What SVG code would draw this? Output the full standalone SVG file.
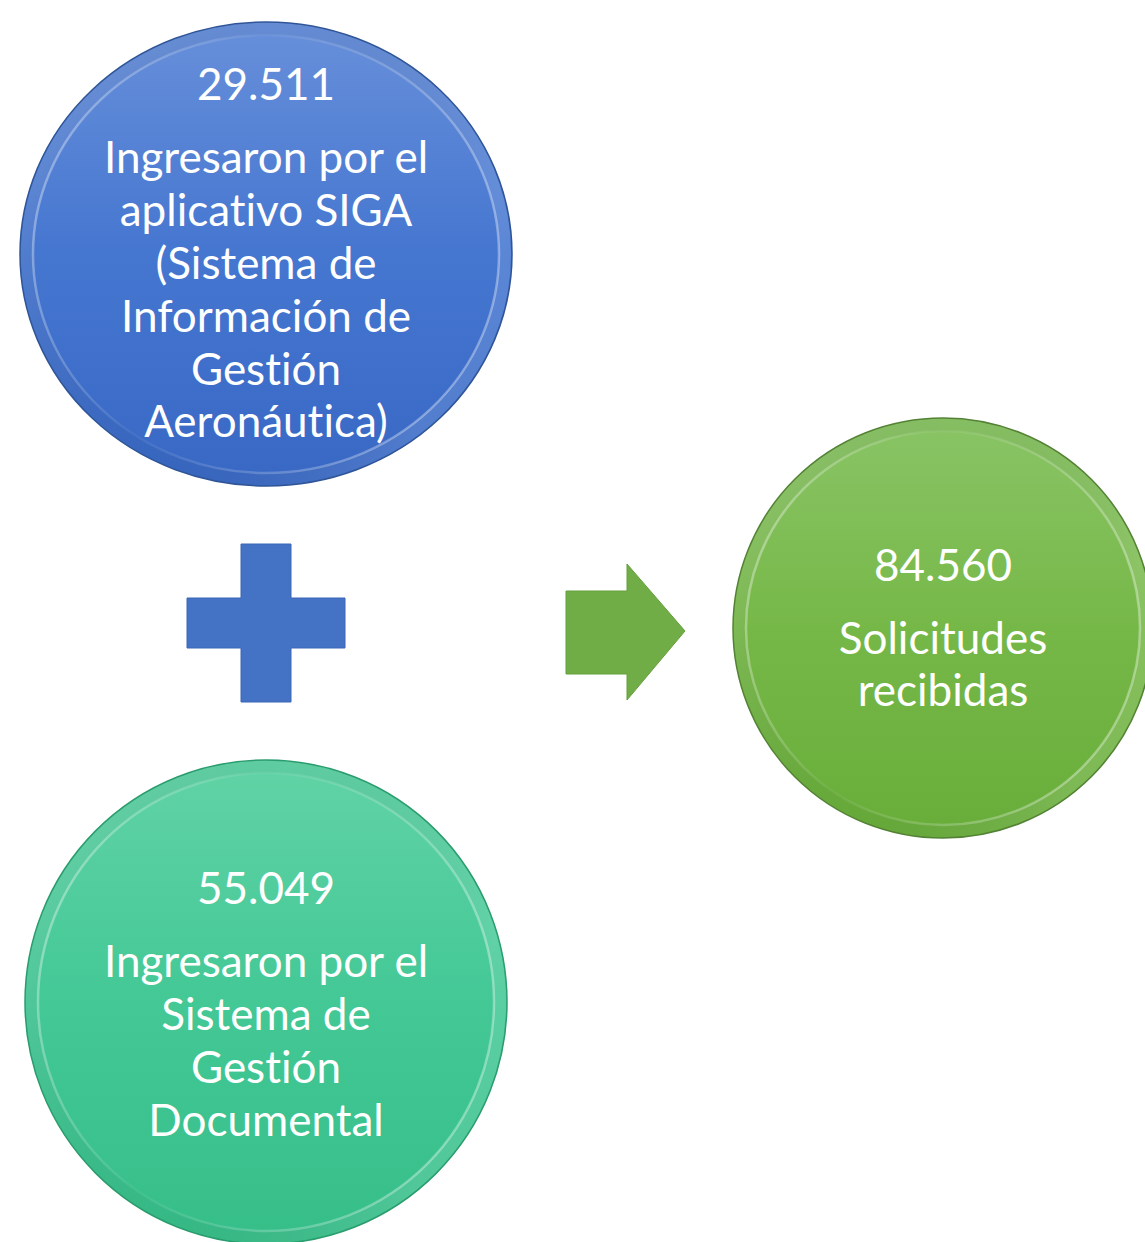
<svg xmlns="http://www.w3.org/2000/svg" width="1145" height="1242" viewBox="0 0 1145 1242">
<defs>
<style>
.t{font-family:Lato,"Liberation Sans",sans-serif;font-size:44px;font-weight:400;fill:#ffffff;text-anchor:middle;font-variant-ligatures:none;font-feature-settings:"liga" 0}
.bev{fill:none;stroke:url(#bevel);stroke-width:12}
.hlr{fill:none;stroke:url(#hl);stroke-width:2.5}
</style>
<linearGradient id="gBlue" x1="0" y1="0" x2="0" y2="1">
<stop offset="0" stop-color="#6890DA"/><stop offset="0.5" stop-color="#4576D0"/><stop offset="1" stop-color="#3868C4"/>
</linearGradient>
<linearGradient id="gTeal" x1="0" y1="0" x2="0" y2="1">
<stop offset="0" stop-color="#62D3A6"/><stop offset="0.5" stop-color="#43C896"/><stop offset="1" stop-color="#36BE88"/>
</linearGradient>
<linearGradient id="gGreen" x1="0" y1="0" x2="0" y2="1">
<stop offset="0" stop-color="#8AC466"/><stop offset="0.5" stop-color="#76B848"/><stop offset="1" stop-color="#68AD3A"/>
</linearGradient>
<linearGradient id="bevel" x1="0" y1="0" x2="1" y2="0.3">
<stop offset="0" stop-color="#ffffff" stop-opacity="0.12"/><stop offset="0.5" stop-color="#000000" stop-opacity="0.03"/><stop offset="1" stop-color="#ffffff" stop-opacity="0.12"/>
</linearGradient>
<linearGradient id="hl" x1="0" y1="0" x2="1" y2="0.3">
<stop offset="0" stop-color="#ffffff" stop-opacity="0.45"/><stop offset="0.45" stop-color="#ffffff" stop-opacity="0.05"/><stop offset="1" stop-color="#ffffff" stop-opacity="0.35"/>
</linearGradient>
</defs>
<g id="node-siga">
<ellipse cx="266" cy="254" rx="246" ry="232" fill="url(#gBlue)" stroke="#2F5597" stroke-width="1.5"/>
<ellipse class="bev" cx="266" cy="254" rx="239" ry="225"/>
<ellipse class="hlr" cx="266" cy="254" rx="233" ry="219"/>
<text class="t" x="266" y="100">29.511</text>
<text class="t" x="266" y="173">Ingresaron por el</text>
<text class="t" x="266" y="226">aplicativo SIGA</text>
<text class="t" x="266" y="279">(Sistema de</text>
<text class="t" x="266" y="332">Información de</text>
<text class="t" x="266" y="385">Gestión</text>
<text class="t" x="266" y="437">Aeronáutica)</text>
</g>
<g id="node-sgd">
<ellipse cx="266" cy="1002" rx="241" ry="242" fill="url(#gTeal)" stroke="#2A9C6E" stroke-width="1.5"/>
<ellipse class="bev" cx="266" cy="1002" rx="234" ry="235"/>
<ellipse class="hlr" cx="266" cy="1002" rx="228" ry="229"/>
<text class="t" x="266" y="904">55.049</text>
<text class="t" x="266" y="977">Ingresaron por el</text>
<text class="t" x="266" y="1030">Sistema de</text>
<text class="t" x="266" y="1083">Gestión</text>
<text class="t" x="266" y="1136">Documental</text>
</g>
<g id="node-total">
<ellipse cx="943" cy="628" rx="210" ry="210" fill="url(#gGreen)" stroke="#548235" stroke-width="1.5"/>
<ellipse class="bev" cx="943" cy="628" rx="203" ry="203"/>
<ellipse class="hlr" cx="943" cy="628" rx="197" ry="197"/>
<text class="t" x="943" y="581">84.560</text>
<text class="t" x="943" y="654">Solicitudes</text>
<text class="t" x="943" y="706">recibidas</text>
</g>
<g id="connectors">
<path id="plus" d="M241,544 H291 V598 H345 V648 H291 V702 H241 V648 H187 V598 H241 Z" fill="#4472C4" stroke="#3A66B5" stroke-width="1"/>
<path id="arrow" d="M566,591 H627 V564 L685,631 L627,700 V674 H566 Z" fill="#70AD47" stroke="#64A03C" stroke-width="1"/>
</g>
</svg>
